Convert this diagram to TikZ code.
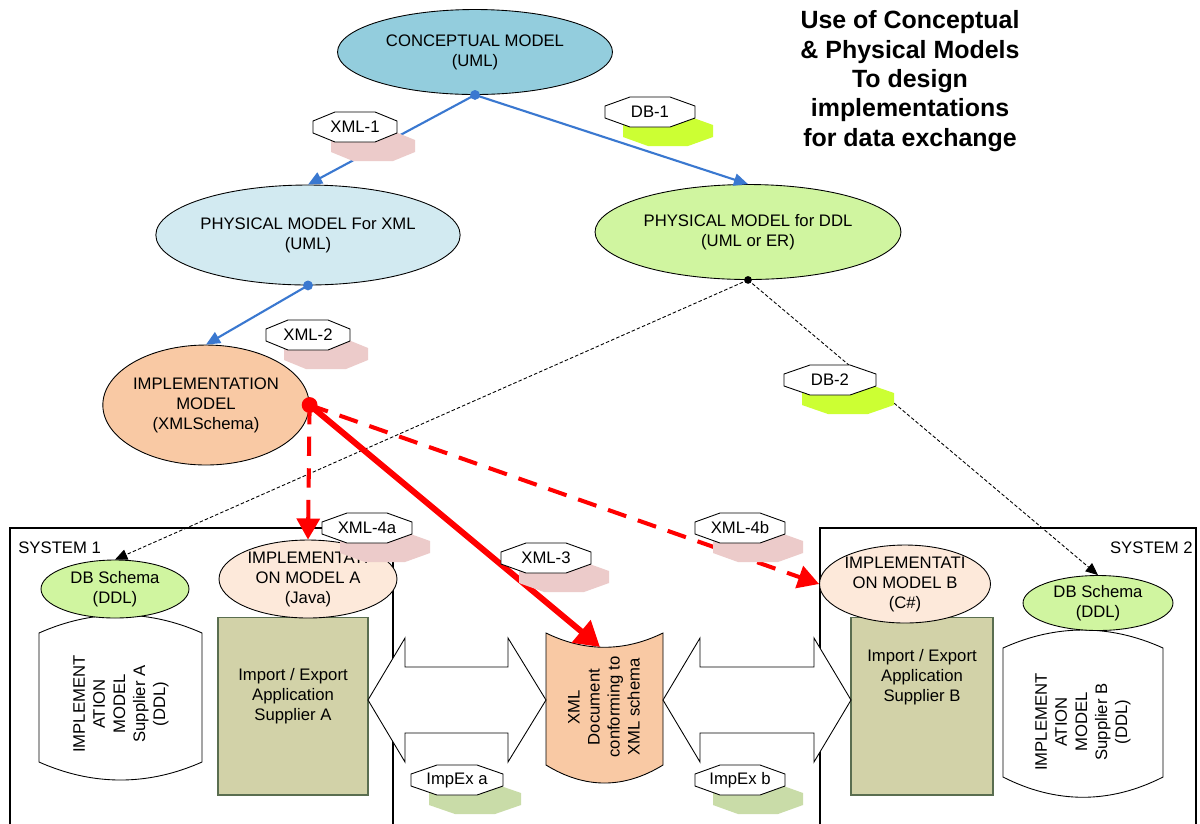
\documentclass[tikz,border=0pt]{standalone}
\usepackage{fontspec}
\setmainfont{Liberation Sans}
\usetikzlibrary{shapes.geometric,arrows.meta,calc}
\definecolor{cmblue}{HTML}{93CDDD}
\definecolor{pxblue}{HTML}{D2EAF1}
\definecolor{ddlgreen}{HTML}{D0F5A0}
\definecolor{implorange}{HTML}{F9C9A4}
\definecolor{implpeach}{HTML}{FDE9DA}
\definecolor{linkblue}{HTML}{3A78D0}
\definecolor{xmlshadow}{HTML}{ECCBCA}
\definecolor{dbshadow}{HTML}{CCFF33}
\definecolor{ieshadow}{HTML}{C9DCA8}
\definecolor{iefill}{HTML}{D2D2A8}
\definecolor{ieborder}{HTML}{5A6E50}
\definecolor{redarrow}{HTML}{FF0000}
\tikzset{
  lbl/.style={font=\fontsize{9.5}{11.4}\selectfont, align=center, inner sep=0pt},
  ell/.style={ellipse, draw=black, line width=0.5pt, inner sep=-6pt, lbl},
  sysline/.style={draw=black, line width=0.6pt},
  bluelink/.style={draw=linkblue, line width=1.2pt, -{Triangle[length=8pt,width=7pt]}},
  dblink/.style={draw=black, line width=0.5pt, dash pattern=on 2pt off 1.2pt, -{Triangle[length=7pt,width=6pt]}},
  redthick/.style={draw=redarrow, line width=3.4pt, -{Triangle[length=14pt,width=16pt]}},
  reddash/.style={draw=redarrow, line width=2.3pt, dash pattern=on 11pt off 7pt, -{Triangle[length=12pt,width=13pt]}},
  iebox/.style={rectangle, draw=ieborder, fill=iefill, line width=0.6pt, inner sep=0pt},
  shapeline/.style={draw=black, line width=0.5pt},
  pics/octo/.style={code={\path[pic actions] (-20,-15) -- (20,-15) -- (#1,-6) -- (#1,6) -- (20,15) -- (-20,15) -- (-#1,6) -- (-#1,-6) -- cycle;}}
}
\newcommand{\octlabel}[6]{%
  \pic[fill=#6] at (#2+18,#3+19) {octo=#4};
  \pic[fill=white,draw=black,line width=0.5pt] at (#2,#3) {octo=#4};
  \node[lbl] (#1) at (#2,#3) {#5};}
\begin{document}
\begin{tikzpicture}[x=0.02cm,y=-0.02cm]
\useasboundingbox[fill=white] (0,0) rectangle (1200,823);

% system frames
\draw[sysline] (10,824) -- (10,528) -- (393,528) -- (393,824);
\draw[sysline] (820,824) -- (820,528) -- (1196,528) -- (1196,824);
\node[lbl, anchor=west] (sys1) at (18,548) {SYSTEM 1};
\node[lbl, anchor=east] (sys2) at (1193,548) {SYSTEM 2};

% title
\node[font=\fontsize{14.2}{16.7}\selectfont\bfseries, align=center, inner sep=0pt] (title) at (910,81)
  {Use of Conceptual\\\& Physical Models\\To design\\implementations\\for data exchange};

% models
\node[ell, fill=cmblue, minimum width=5.5cm, minimum height=1.7cm] (cm) at (475,52) {CONCEPTUAL MODEL\\(UML)};
\node[ell, fill=pxblue, minimum width=6cm, minimum height=2cm] (pxml) at (308,235) {PHYSICAL MODEL For XML\\(UML)};
\node[ell, fill=ddlgreen, minimum width=6.12cm, minimum height=1.9cm] (pddl) at (748,232) {PHYSICAL MODEL for DDL\\(UML or ER)};
\node[ell, fill=implorange, minimum width=4.1cm, minimum height=2.4cm] (impl) at (206,405) {IMPLEMENTATION\\MODEL\\(XMLSchema)};

% cylinders
\draw[shapeline, fill=white] (39,633) .. controls (93,609) and (148,609) .. (202,633) -- (202,762) .. controls (148,786) and (93,786) .. (39,762) -- cycle;
\node[lbl, rotate=90] (cylA) at (121,704) {IMPLEMENT\\ATION\\MODEL\\Supplier A\\(DDL)};
\draw[shapeline, fill=white] (1003,648) .. controls (1056,624) and (1110,624) .. (1163,648) -- (1163,777) .. controls (1110,804) and (1056,804) .. (1003,777) -- cycle;
\node[lbl, rotate=90] (cylB) at (1083,722) {IMPLEMENT\\ATION\\MODEL\\Supplier B\\(DDL)};

% DB schemas
\node[ell, fill=ddlgreen, minimum width=2.96cm, minimum height=1.16cm] (dbs1) at (115,589) {DB Schema\\(DDL)};
\node[ell, fill=ddlgreen, minimum width=3cm, minimum height=1.1cm] (dbs2) at (1098,603) {DB Schema\\(DDL)};

% import/export applications
\node[iebox, minimum width=3cm, minimum height=3.56cm] (ieA) at (293,706) {};
\node[lbl] (ieAtext) at (293,696) {Import / Export\\Application\\Supplier A};
\node[iebox, minimum width=2.84cm, minimum height=3.56cm] (ieB) at (922,706) {};
\node[lbl] (ieBtext) at (922,677) {Import / Export\\Application\\Supplier B};

% implementation models A / B
\node[ell, fill=implpeach, minimum width=3.56cm, minimum height=1.56cm] (implA) at (308,579) {IMPLEMENTATI\\ON MODEL A\\(Java)};
\node[ell, fill=implpeach, minimum width=3.06cm, minimum height=1.56cm] (implB) at (905,584) {IMPLEMENTATI\\ON MODEL B\\(C\#)};

% XML document
\draw[shapeline, fill=implorange] (546,633) .. controls (585,652) and (624,652) .. (663,633) -- (663,765) .. controls (624,789) and (585,789) .. (546,765) -- cycle;
\node[lbl, rotate=90] (doc) at (604,707) {XML\\Document\\conforming to\\XML schema};
\coordinate (doctop) at (600,647);

% double arrows
\draw[shapeline, fill=white] (368,700) -- (405,638) -- (405,667) -- (508,667) -- (508,638) -- (546,700) -- (508,762) -- (508,733) -- (405,733) -- (405,762) -- cycle;
\draw[shapeline, fill=white] (663,700) -- (700,638) -- (700,667) -- (814,667) -- (814,638) -- (851,700) -- (814,762) -- (814,733) -- (700,733) -- (700,762) -- cycle;

% connectors
\draw[bluelink] (cm.south) -- (pxml.north);
\draw[bluelink] (cm.south) -- (pddl.north);
\draw[bluelink] (pxml.south) -- (impl.north);
\draw[dblink] (pddl.south) -- (dbs1.north);
\draw[dblink] (pddl.south) -- (dbs2.north);
\draw[reddash] (impl.east) -- (implA.north);
\draw[reddash] (impl.east) -- (implB.west);
\draw[redthick] (impl.east) -- (doctop);

% dots
\fill[linkblue] (cm.south) circle[radius=2.8pt];
\fill[linkblue] (pxml.south) circle[radius=2.8pt];
\fill[black] (pddl.south) circle[radius=2.2pt];
\fill[redarrow] (impl.east) circle[radius=4.5pt];

% labels
\octlabel{xml1}{355}{127}{42}{XML-1}{xmlshadow}
\octlabel{db1}{650}{112}{45}{DB-1}{dbshadow}
\octlabel{xml2}{308}{335}{42}{XML-2}{xmlshadow}
\octlabel{db2}{830}{380}{46}{DB-2}{dbshadow}
\octlabel{xml4a}{367}{528}{45}{XML-4a}{xmlshadow}
\octlabel{xml4b}{740}{528}{45}{XML-4b}{xmlshadow}
\octlabel{xml3}{546}{558}{45}{XML-3}{xmlshadow}
\octlabel{impexa}{457}{780}{46}{ImpEx a}{ieshadow}
\octlabel{impexb}{740}{780}{45}{ImpEx b}{ieshadow}
\end{tikzpicture}
\end{document}
